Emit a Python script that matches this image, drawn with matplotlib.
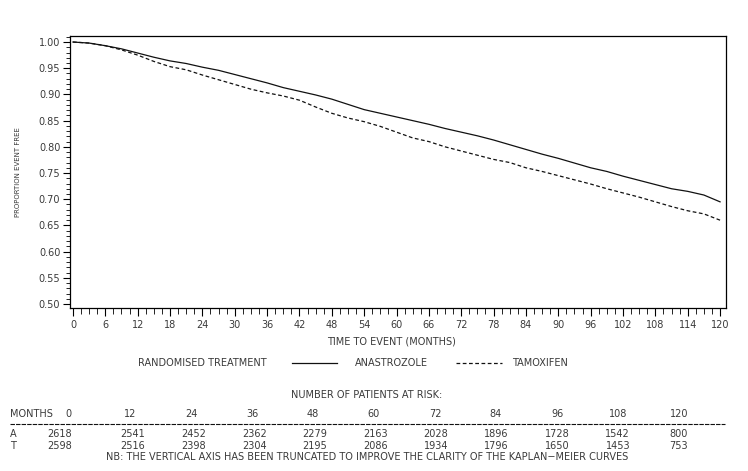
import matplotlib
matplotlib.use('Agg')
import matplotlib.pyplot as plt
from matplotlib.lines import Line2D
from matplotlib.ticker import MultipleLocator, FormatStrFormatter

# Kaplan-Meier curves (every 3 months)
meses = list(range(0, 121, 3))
anastrozole = [1.000, 0.998, 0.993, 0.987, 0.979, 0.971, 0.964, 0.959, 0.952, 0.946,
               0.938, 0.930, 0.922, 0.913, 0.906, 0.899, 0.891, 0.881, 0.871, 0.864,
               0.857, 0.850, 0.843, 0.835, 0.828, 0.821, 0.813, 0.804, 0.795, 0.786,
               0.778, 0.769, 0.760, 0.753, 0.744, 0.736, 0.728, 0.720, 0.715, 0.708,
               0.695]
tamoxifen = [1.000, 0.998, 0.993, 0.985, 0.975, 0.963, 0.953, 0.947, 0.937, 0.928,
             0.919, 0.910, 0.903, 0.897, 0.889, 0.876, 0.864, 0.855, 0.848, 0.839,
             0.828, 0.817, 0.810, 0.800, 0.792, 0.784, 0.776, 0.770, 0.760, 0.753,
             0.745, 0.737, 0.729, 0.720, 0.712, 0.704, 0.695, 0.686, 0.678, 0.672,
             0.660]

# Number at risk
meses_risco = [0, 12, 24, 36, 48, 60, 72, 84, 96, 108, 120]
risco_a = [2618, 2541, 2452, 2362, 2279, 2163, 2028, 1896, 1728, 1542, 800]
risco_t = [2598, 2516, 2398, 2304, 2195, 2086, 1934, 1796, 1650, 1453, 753]

cor_texto = '#3a3a3a'
W, H = 748, 471

fig = plt.figure(figsize=(W / 100, H / 100), dpi=100)
fig.patch.set_facecolor('white')
ax = fig.add_axes([70 / W, 1 - 308 / H, 656 / W, 272 / H])

ax.plot(meses, anastrozole, '-', color='#111111', linewidth=0.9)
ax.plot(meses, tamoxifen, color='#111111', linewidth=0.9, linestyle=(0, (3, 2)))

ax.set_xlim(-0.55, 121.1)
ax.set_ylim(0.4924, 1.0115)
ax.xaxis.set_major_locator(MultipleLocator(6))
ax.xaxis.set_minor_locator(MultipleLocator(1.5))
ax.yaxis.set_major_locator(MultipleLocator(0.05))
ax.yaxis.set_minor_locator(MultipleLocator(0.01))
ax.yaxis.set_major_formatter(FormatStrFormatter('%.2f'))
ax.tick_params(axis='both', which='major', direction='out', labelsize=7,
               labelcolor=cor_texto, width=0.8)
ax.tick_params(axis='x', which='major', length=6, pad=3)
ax.tick_params(axis='x', which='minor', length=4, width=0.6)
ax.tick_params(axis='y', which='major', length=5, pad=2)
ax.tick_params(axis='y', which='minor', length=3, width=0.6)
for spine in ax.spines.values():
    spine.set_linewidth(0.9)

# Y label
fig.text(18 / W, 1 - 172 / H, 'PROPORTION EVENT FREE', rotation=90,
         ha='center', va='center', fontsize=5, color=cor_texto)

# X label
fig.text(391 / W, 1 - 342 / H, 'TIME TO EVENT (MONTHS)', ha='center', va='center',
         fontsize=7, color=cor_texto)

# Legend row
y_leg = 1 - 363 / H
fig.text(138 / W, y_leg, 'RANDOMISED TREATMENT', ha='left', va='center',
         fontsize=7, color=cor_texto)
fig.add_artist(Line2D([292 / W, 337 / W], [y_leg, y_leg], color='#111111', linewidth=0.9))
fig.text(355 / W, y_leg, 'ANASTROZOLE', ha='left', va='center', fontsize=7, color=cor_texto)
fig.add_artist(Line2D([456 / W, 502 / W], [y_leg, y_leg], color='#111111', linewidth=0.9,
                      linestyle=(0, (3, 2))))
fig.text(512 / W, y_leg, 'TAMOXIFEN', ha='left', va='center', fontsize=7, color=cor_texto)

# Number at risk table
fig.text(367 / W, 1 - 395 / H, 'NUMBER OF PATIENTS AT RISK:', ha='center', va='center',
         fontsize=7, color=cor_texto)
fig.text(10 / W, 1 - 414 / H, 'MONTHS', ha='left', va='center', fontsize=7, color=cor_texto)
fig.text(10 / W, 1 - 434 / H, 'A', ha='left', va='center', fontsize=7, color=cor_texto)
fig.text(10 / W, 1 - 446 / H, 'T', ha='left', va='center', fontsize=7, color=cor_texto)
for k, (m, a, t) in enumerate(zip(meses_risco, risco_a, risco_t)):
    if k == 0:
        xh, xv = 68, 60
    else:
        xh = 130 + 61 * (k - 1)
        xv = 133 + 60.6 * (k - 1)
    fig.text(xh / W, 1 - 414 / H, str(m), ha='center', va='center', fontsize=7, color=cor_texto)
    fig.text(xv / W, 1 - 434 / H, str(a), ha='center', va='center', fontsize=7, color=cor_texto)
    fig.text(xv / W, 1 - 446 / H, str(t), ha='center', va='center', fontsize=7, color=cor_texto)
fig.add_artist(Line2D([10 / W, 725 / W], [1 - 424 / H, 1 - 424 / H], color='#111111',
                      linewidth=0.8, linestyle=(0, (4, 1))))
fig.text(367 / W, 1 - 457 / H,
         'NB: THE VERTICAL AXIS HAS BEEN TRUNCATED TO IMPROVE THE CLARITY OF THE KAPLAN\u2212MEIER CURVES',
         ha='center', va='center', fontsize=7, color=cor_texto)

fig.savefig('out.png', dpi=100, facecolor='white')
